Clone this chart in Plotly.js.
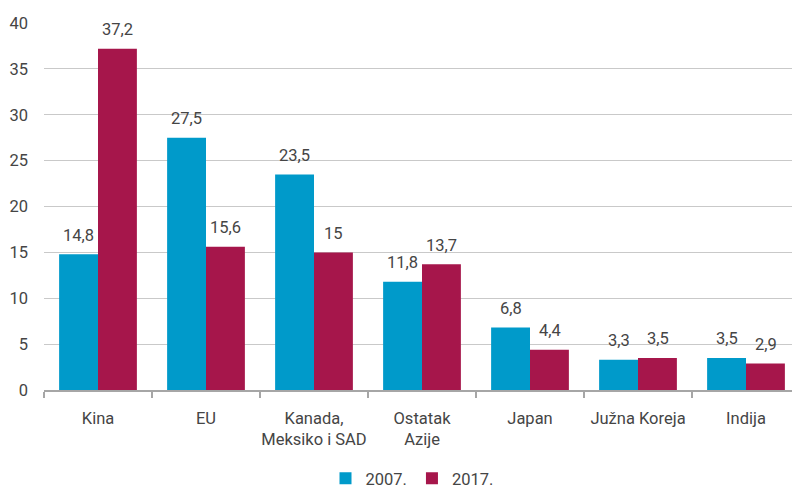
<!DOCTYPE html>
<html><head><meta charset="utf-8">
<script src="https://cdn.plot.ly/plotly-3.0.1.min.js"></script>
<style>html,body{margin:0;padding:0;overflow:hidden;background:#fff}#c{width:800px;height:496px}</style>
</head><body><div id="c"></div>
<script>
const categories = ["Kina", "EU", "Kanada,<br>Meksiko i SAD", "Ostatak<br>Azije", "Japan", "Južna Koreja", "Indija"];
const series2007 = [14.8, 27.5, 23.5, 11.8, 6.8, 3.3, 3.5];
const series2017 = [37.2, 15.6, 15, 13.7, 4.4, 3.5, 2.9];
const yTicks = [0, 5, 10, 15, 20, 25, 30, 35, 40];

const fmt = v => String(v).replace('.', ',');
const font = {family: "Roboto, 'DejaVu Sans', sans-serif", size: 16.5, color: "#454545"};

const traces = [
  {type: "bar", name: "2007.", x: categories, y: series2007, marker: {color: "#009ACA"}, hoverinfo: "none"},
  {type: "bar", name: "2017.", x: categories, y: series2017, marker: {color: "#A6164B"}, hoverinfo: "none"}
];

const annotations = [];
[[series2007, -19.5], [series2017, 19.5]].forEach(([vals, shift]) => {
  vals.forEach((v, i) => annotations.push({
    x: categories[i], y: v, xref: "x", yref: "y", text: fmt(v), showarrow: false,
    xshift: shift, yshift: 19, yanchor: "middle", xanchor: "center", font: font
  }));
});

const layout = {
  width: 800, height: 496,
  margin: {l: 44, r: 0, t: 23, b: 106},
  paper_bgcolor: "#fff", plot_bgcolor: "#fff",
  font: font,
  barmode: "group", bargap: 0.28, bargroupgap: 0,
  annotations: annotations,
  xaxis: {
    tickson: "boundaries", ticks: "outside", ticklen: 6, tickwidth: 2, tickcolor: "#a6a6a6",
    showline: true, linecolor: "#a6a6a6", linewidth: 2, showgrid: false, tickangle: 0,
    tickfont: font, ticklabelstandoff: 12, automargin: false
  },
  yaxis: {
    range: [0, 40], tickvals: yTicks, ticktext: yTicks.map(String),
    showgrid: true, gridcolor: "#c9c9c9", gridwidth: 1, zeroline: false,
    ticks: "", ticklabelstandoff: 15, tickfont: font, showline: false, automargin: false
  },
  showlegend: true,
  legend: {orientation: "h", xref: "container", yref: "container", x: 412 / 800, xanchor: "center",
           y: 0, yanchor: "bottom", font: font, traceorder: "normal"}
};

Plotly.newPlot("c", traces, layout, {staticPlot: true, displayModeBar: false});
</script></body></html>
